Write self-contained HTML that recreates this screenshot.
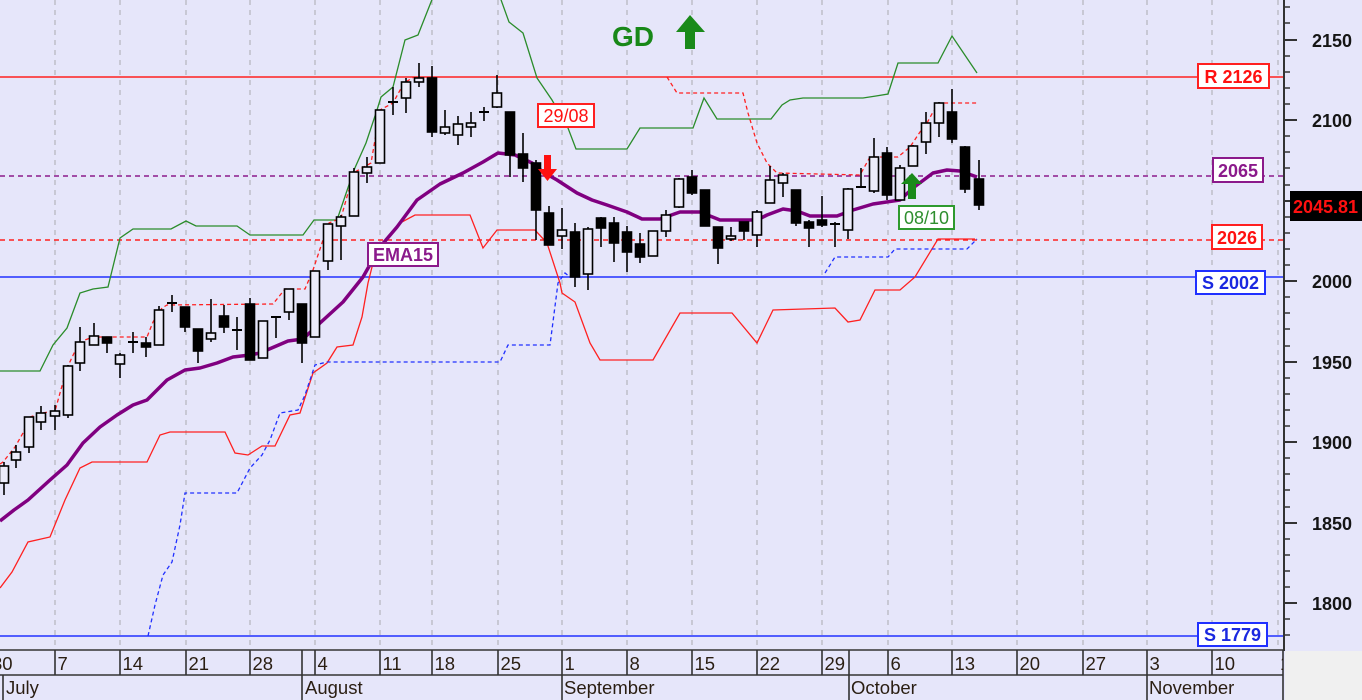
<!DOCTYPE html>
<html><head><meta charset="utf-8"><style>
html,body{margin:0;padding:0;background:#e6e6fa;}
svg{display:block;font-family:"Liberation Sans",Arial,sans-serif;}
</style></head><body>
<svg width="1362" height="700" viewBox="0 0 1362 700" xmlns="http://www.w3.org/2000/svg">
<defs><clipPath id="cp"><rect x="0" y="0" width="1284" height="650"/></clipPath>
<clipPath id="cpd"><rect x="0" y="650" width="1283" height="50"/></clipPath></defs>
<rect x="0" y="0" width="1362" height="700" fill="#e6e6fa"/>
<rect x="1285" y="651" width="77" height="49" fill="#f0f0f0"/>
<g clip-path="url(#cp)">
<g stroke="#b4b4bc" stroke-width="1.2" stroke-dasharray="5,5">
<path d="M55 0V652M120 0V652M186 0V652M250 0V652M315 0V652M380 0V652M432 0V652M498 0V652M562 0V652M627 0V652M692 0V652M757 0V652M822 0V652M888 0V652M952 0V652M1017 0V652M1083 0V652M1147 0V652M1212 0V652M1278 0V652"/>
</g>
<line x1="0" y1="77" x2="1284" y2="77" stroke="#ff2020" stroke-width="1.6"/>
<line x1="0" y1="176" x2="1284" y2="176" stroke="#8b1a8b" stroke-width="1.6" stroke-dasharray="5,4"/>
<line x1="0" y1="240" x2="1284" y2="240" stroke="#ff2020" stroke-width="1.6" stroke-dasharray="5,4"/>
<line x1="0" y1="277" x2="1284" y2="277" stroke="#2030ff" stroke-width="1.6"/>
<line x1="0" y1="636" x2="1284" y2="636" stroke="#2030ff" stroke-width="1.6"/>
<g fill="none" stroke="#2a8c2a" stroke-width="1.3">
<polyline points="0,371 40,371 53,345 67,328 80,293 93,289 108,287 120,238 133,229 171,229 186,221 196,226 237,226 250,235 303,235 314,220 337,220 354,170 366,143 377,110 381,97 393,87 405,40 418,35 433,-3"/>
<polyline points="500,-3 509,22 523,33 537,78 552,100 568,128 576,149 627,149 640,128 693,128 704,98 717,119 771,119 782,105 790,100 803,98 863,98 876,96 888,94 898,63 938,63 952,36 977,73"/>
</g>
<polyline fill="none" stroke="#ff2020" stroke-width="1.3" points="0,588 12,572 28,542 50,537 65,500 80,468 92,462 147,462 160,435 170,432 225,432 235,453 248,455 262,446 275,446 290,415 300,413 313,373 327,363 337,347 353,345 362,317 368,283 373,263 387,240 400,223 415,215 470,215 483,248 497,230 535,230 547,243 560,283 562,293 575,302 590,343 600,360 653,360 680,313 732,313 757,343 773,310 835,308 848,322 860,320 875,290 900,290 915,277 938,239 975,239"/>
<g fill="none" stroke="#ff2020" stroke-width="1.3" stroke-dasharray="4,3">
<polyline points="0,464 3,462 15,447 23,433 30,417 42,413 55,411 60,393 67,368 77,347 85,340 93,337 147,337 153,322 162,308 167,305 273,304 285,289 305,289 313,270 323,240 329,223 341,218 348,193 355,172 371,163 375,140 380,110 393,103 404,83 414,77"/>
<polyline points="667,77 677,93 743,93 748,113 757,143 767,163 777,173 860,175 870,157 898,157 910,147 920,132 927,123 933,112 940,103 977,103"/>
</g>
<g fill="none" stroke="#2030ff" stroke-width="1.3" stroke-dasharray="4,3">
<polyline points="148,636 155,605 163,575 172,562 180,525 185,493 237,493 250,468 262,455 270,440 280,413 298,410 305,395 315,365 327,362 500,362 508,345 550,345 558,283 565,273 570,277"/>
<polyline points="825,273 835,257 888,257 895,249 967,249 977,239"/>
</g>
<polyline fill="none" stroke="#800080" stroke-width="3.5" stroke-linejoin="round" points="0,521 14,510 28,500 50,480 67,465 83,443 100,427 117,415 133,405 147,400 167,380 185,370 200,368 217,363 233,357 250,355 260,353 288,341 303,339 320,323 343,302 363,277 380,247 397,227 417,200 440,184 463,173 483,162 498,153 515,155 532,163 543,172 557,180 577,193 592,200 607,205 627,212 642,219 660,219 680,212 700,212 720,220 757,220 767,215 783,209 797,211 810,216 837,216 853,210 873,204 900,200 913,188 933,173 947,170 960,171 977,177"/>
<path fill="none" stroke="#000" stroke-width="1.6" d="M4 462V495M16 445V468M29 417V453M41 406V430M55 405V430M68 365V418M80 327V371M94 323V345M107 337V353M120 353V378M133 332V353M146 337V357M159 306V345M172 295V312M185 307V332M198 329V363M211 299V342M224 305V333M237 317V350M250 298V360M263 321V358M276 317V338M289 289V320M302 304V363M315 271V337M328 224V270M341 215V260M354 168V216M367 157V183M380 110V163M393 87V115M406 78V113M419 63V87M432 66V137M445 110V135M458 116V145M471 112V137M484 107V121M497 75V108M510 112V177M523 133V182M536 160V240M549 206V245M562 208V249M575 223V287M588 227V290M601 217V247M614 217V262M627 226V272M640 233V263M653 231V256M666 210V237M679 178V208M692 170V195M705 190V226M718 227V264M731 227V241M744 222V240M757 210V247M770 166V203M783 173V197M796 190V226M809 220V247M822 196V227M835 222V247M848 188V239M861 168V188M874 138V193M887 147V200M900 165V200M913 145V166M926 112V154M939 102V137M952 89V143M965 146V193M979 160V210"/>
<path fill="none" stroke="#000" stroke-width="2" d="M128 342H138M167 303H177M232 330H242M271 317H281M388 102H398M479 112H489M830 224H840M856 187H866"/>
<g fill="#ececfa" stroke="#000" stroke-width="1.6">
<rect x="-0.5" y="466" width="9" height="17"/>
<rect x="11.5" y="452" width="9" height="8"/>
<rect x="24.5" y="417" width="9" height="30"/>
<rect x="36.5" y="413" width="9" height="9"/>
<rect x="50.5" y="411" width="9" height="5"/>
<rect x="63.5" y="366" width="9" height="49"/>
<rect x="75.5" y="342" width="9" height="21"/>
<rect x="89.5" y="336" width="9" height="9"/>
<rect x="115.5" y="355" width="9" height="9"/>
<rect x="154.5" y="310" width="9" height="35"/>
<rect x="206.5" y="333" width="9" height="6"/>
<rect x="258.5" y="321" width="9" height="37"/>
<rect x="284.5" y="289" width="9" height="23"/>
<rect x="310.5" y="271" width="9" height="66"/>
<rect x="323.5" y="224" width="9" height="37"/>
<rect x="336.5" y="217" width="9" height="9"/>
<rect x="349.5" y="172" width="9" height="44"/>
<rect x="362.5" y="167" width="9" height="6"/>
<rect x="375.5" y="110" width="9" height="53"/>
<rect x="401.5" y="82" width="9" height="16"/>
<rect x="414.5" y="78" width="9" height="4"/>
<rect x="440.5" y="127" width="9" height="6"/>
<rect x="453.5" y="124" width="9" height="11"/>
<rect x="466.5" y="123" width="9" height="4"/>
<rect x="492.5" y="93" width="9" height="14"/>
<rect x="557.5" y="230" width="9" height="6"/>
<rect x="583.5" y="229" width="9" height="45"/>
<rect x="648.5" y="231" width="9" height="25"/>
<rect x="661.5" y="215" width="9" height="16"/>
<rect x="674.5" y="179" width="9" height="28"/>
<rect x="726.5" y="236" width="9" height="3"/>
<rect x="752.5" y="212" width="9" height="23"/>
<rect x="765.5" y="180" width="9" height="23"/>
<rect x="778.5" y="175" width="9" height="8"/>
<rect x="843.5" y="189" width="9" height="41"/>
<rect x="869.5" y="157" width="9" height="34"/>
<rect x="895.5" y="168" width="9" height="32"/>
<rect x="908.5" y="146" width="9" height="20"/>
<rect x="921.5" y="123" width="9" height="19"/>
<rect x="934.5" y="103" width="9" height="20"/>
</g>
<g fill="#000" stroke="#000" stroke-width="1.6">
<rect x="102.5" y="337" width="9" height="6"/>
<rect x="141.5" y="343" width="9" height="4"/>
<rect x="180.5" y="307" width="9" height="20"/>
<rect x="193.5" y="329" width="9" height="22"/>
<rect x="219.5" y="316" width="9" height="11"/>
<rect x="245.5" y="304" width="9" height="56"/>
<rect x="297.5" y="304" width="9" height="39"/>
<rect x="427.5" y="78" width="9" height="54"/>
<rect x="505.5" y="112" width="9" height="43"/>
<rect x="518.5" y="154" width="9" height="14"/>
<rect x="531.5" y="163" width="9" height="47"/>
<rect x="544.5" y="213" width="9" height="32"/>
<rect x="570.5" y="232" width="9" height="45"/>
<rect x="596.5" y="218" width="9" height="10"/>
<rect x="609.5" y="223" width="9" height="20"/>
<rect x="622.5" y="232" width="9" height="20"/>
<rect x="635.5" y="244" width="9" height="13"/>
<rect x="687.5" y="177" width="9" height="16"/>
<rect x="700.5" y="190" width="9" height="36"/>
<rect x="713.5" y="227" width="9" height="21"/>
<rect x="739.5" y="222" width="9" height="9"/>
<rect x="791.5" y="190" width="9" height="33"/>
<rect x="804.5" y="222" width="9" height="6"/>
<rect x="817.5" y="220" width="9" height="5"/>
<rect x="882.5" y="153" width="9" height="42"/>
<rect x="947.5" y="112" width="9" height="27"/>
<rect x="960.5" y="147" width="9" height="42"/>
<rect x="974.5" y="179" width="9" height="26"/>
</g>
<polygon points="544,155 551,155 551,169 557,169 547.5,181 538,169 544,169" fill="#ff1010"/>
<polygon points="908,199 916,199 916,184 922,184 912,173 901,184 908,184" fill="#1a8a1a"/>
<polygon points="685,49 695,49 695,32 705,32 690,15 676,32 685,32" fill="#1a8a1a"/>
<text x="612" y="46" font-size="28" font-weight="bold" fill="#188818">GD</text>
<rect x="368" y="243" width="70" height="23" fill="#fff" stroke="#8b1a8b" stroke-width="2"/>
<text x="403" y="261" font-size="18" font-weight="bold" fill="#8b1a8b" text-anchor="middle">EMA15</text>
<rect x="538" y="104" width="56" height="23" fill="#fff" stroke="#ff2020" stroke-width="2"/>
<text x="566" y="122" font-size="18" fill="#ff1010" text-anchor="middle">29/08</text>
<rect x="899" y="206" width="55" height="23" fill="#fff" stroke="#2e9a2e" stroke-width="2"/>
<text x="926.5" y="224" font-size="18" fill="#2e8e2e" text-anchor="middle">08/10</text>
<rect x="1198" y="64" width="71" height="24" fill="#fff" stroke="#ff2020" stroke-width="2"/>
<text x="1233.5" y="83" font-size="18" font-weight="bold" fill="#ff1010" text-anchor="middle">R 2126</text>
<rect x="1213" y="158" width="50" height="24" fill="#fff" stroke="#8b1a8b" stroke-width="2"/>
<text x="1238" y="177" font-size="18" font-weight="bold" fill="#8b1a8b" text-anchor="middle">2065</text>
<rect x="1212" y="225" width="50" height="24" fill="#fff" stroke="#ff2020" stroke-width="2"/>
<text x="1237" y="244" font-size="18" font-weight="bold" fill="#ff1010" text-anchor="middle">2026</text>
<rect x="1196" y="271" width="69" height="23" fill="#fff" stroke="#2030ff" stroke-width="2"/>
<text x="1230.5" y="289" font-size="18" font-weight="bold" fill="#1a28e0" text-anchor="middle">S 2002</text>
<rect x="1198" y="623" width="69" height="23" fill="#fff" stroke="#2030ff" stroke-width="2"/>
<text x="1232.5" y="641" font-size="18" font-weight="bold" fill="#1a28e0" text-anchor="middle">S 1779</text>
</g>
<line x1="1284" y1="0" x2="1284" y2="651" stroke="#333" stroke-width="2"/>
<g stroke="#333" stroke-width="1.6">
<path d="M1284 7H1290M1284 23H1290M1284 56H1290M1284 72H1290M1284 88H1290M1284 104H1290M1284 136H1290M1284 152H1290M1284 168H1290M1284 185H1290M1284 217H1290M1284 233H1290M1284 249H1290M1284 265H1290M1284 297H1290M1284 313H1290M1284 329H1290M1284 346H1290M1284 378H1290M1284 394H1290M1284 410H1290M1284 426H1290M1284 458H1290M1284 474H1290M1284 490H1290M1284 507H1290M1284 539H1290M1284 555H1290M1284 571H1290M1284 587H1290M1284 619H1290M1284 635H1290"/>
<path stroke-width="2" d="M1284 40H1297M1284 120H1297M1284 201H1297M1284 281H1297M1284 362H1297M1284 442H1297M1284 523H1297M1284 603H1297"/>
</g>
<g font-size="18" font-weight="bold" fill="#151515">
<text x="1312" y="47">2150</text>
<text x="1312" y="127">2100</text>
<text x="1312" y="288">2000</text>
<text x="1312" y="369">1950</text>
<text x="1312" y="449">1900</text>
<text x="1312" y="530">1850</text>
<text x="1312" y="610">1800</text>
</g>
<rect x="1290" y="191" width="72" height="30" fill="#000"/>
<text x="1293" y="213" font-size="18" font-weight="bold" fill="#ff1010">2045.81</text>
<g stroke="#333" stroke-width="1.6" fill="none">
<line x1="0" y1="650" x2="1284" y2="650"/>
<line x1="0" y1="675" x2="1283" y2="675"/>
<path d="M55 650V675M120 650V675M186 650V675M250 650V675M315 650V675M380 650V675M432 650V675M498 650V675M562 650V675M627 650V675M692 650V675M757 650V675M822 650V675M888 650V675M952 650V675M1017 650V675M1083 650V675M1212 650V675M1283 650V700"/>
<path d="M3 675V700M302 650V700M562 675V700M849 650V700M1147 650V700"/>
</g>
<g font-size="18.5" fill="#2a1e12" clip-path="url(#cpd)">
<text x="-8" y="670">30</text>
<text x="57.5" y="670">7</text>
<text x="122.5" y="670">14</text>
<text x="188.5" y="670">21</text>
<text x="252.5" y="670">28</text>
<text x="317.5" y="670">4</text>
<text x="382.5" y="670">11</text>
<text x="434.5" y="670">18</text>
<text x="500.5" y="670">25</text>
<text x="564.5" y="670">1</text>
<text x="629.5" y="670">8</text>
<text x="694.5" y="670">15</text>
<text x="759.5" y="670">22</text>
<text x="824.5" y="670">29</text>
<text x="890.5" y="670">6</text>
<text x="954.5" y="670">13</text>
<text x="1019.5" y="670">20</text>
<text x="1085.5" y="670">27</text>
<text x="1149.5" y="670">3</text>
<text x="1214.5" y="670">10</text>
<text x="1280" y="670">17</text>
<text x="6" y="694">July</text>
<text x="305" y="694">August</text>
<text x="564" y="694">September</text>
<text x="851" y="694">October</text>
<text x="1149" y="694">November</text>
</g>
</svg>
</body></html>
